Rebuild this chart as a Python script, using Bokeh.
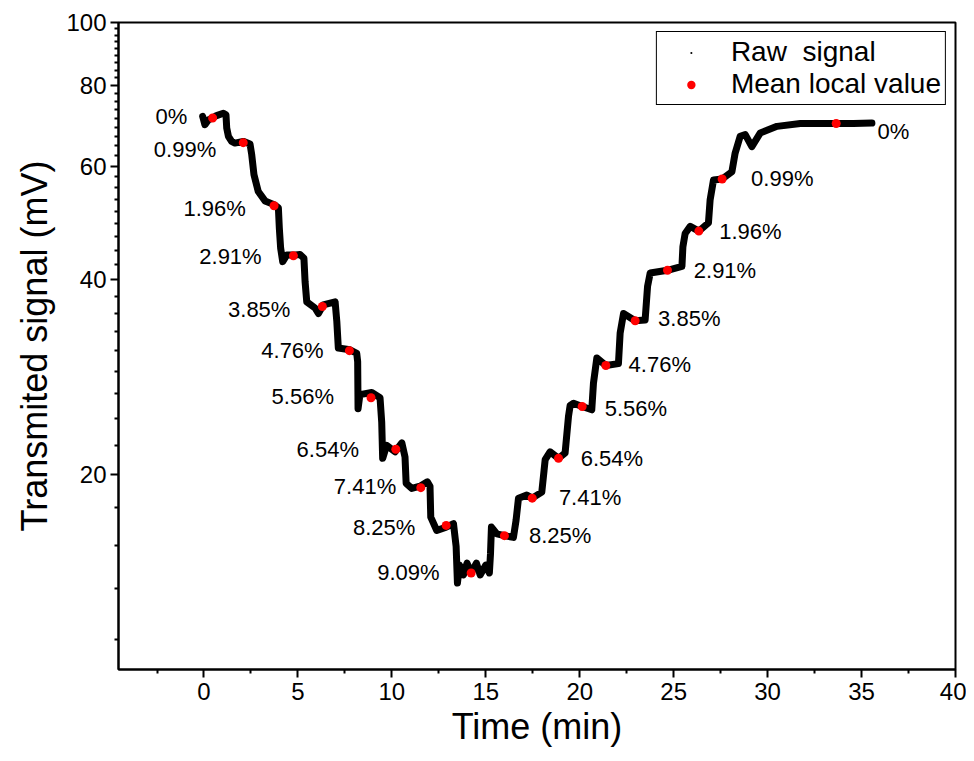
from bokeh.plotting import figure
from bokeh.models import Range1d, FixedTicker, PrintfTickFormatter, ColumnDataSource, Legend, LegendItem
from bokeh.core.properties import value
from bokeh.embed import file_html
from bokeh.resources import INLINE

FONT = "Liberation Sans"

# ---- data ----
raw_time = [-0.07, 0.05, 0.23, 0.46, 0.67, 1.03, 1.17, 1.21, 1.30, 1.47, 1.65, 2.09, 2.45, 2.54,
            2.66, 2.89, 3.25, 3.73, 3.96, 4.01, 4.08, 4.19, 4.40, 4.76, 5.11, 5.32, 5.38, 5.47,
            5.91, 6.09, 6.35, 6.98, 7.07, 7.15, 7.77, 8.13, 8.18, 8.20, 8.30, 8.93, 9.37, 9.46,
            9.51, 9.72, 10.17, 10.53, 10.70, 10.76, 11.06, 11.50, 11.89, 12.03, 12.07, 12.39,
            12.89, 13.28, 13.42, 13.49, 13.60, 13.81, 14.00, 14.22, 14.50, 14.70, 15.00, 15.19,
            15.25, 15.30, 15.59, 15.99, 16.47, 16.61, 16.74, 17.18, 17.47, 17.98, 18.10, 18.16,
            18.42, 18.87, 19.22, 19.40, 19.49, 19.67, 20.13, 20.64, 20.73, 20.91, 21.39, 22.06,
            22.15, 22.33, 22.95, 23.48, 23.61, 23.75, 24.67, 25.44, 25.49, 25.61, 25.88, 26.34,
            26.85, 26.94, 27.12, 27.58, 28.10, 28.27, 28.54, 28.81, 29.16, 29.61, 30.50, 31.74,
            33.65, 34.57, 35.55]
raw_signal = [71.6, 69.5, 70.7, 71.2, 71.8, 72.4, 72.0, 68.7, 66.7, 65.5, 65.1, 65.5, 64.9, 62.5,
              58.2, 54.8, 53.0, 52.3, 51.7, 48.1, 44.8, 42.7, 43.7, 43.7, 43.8, 43.2, 39.8, 37.0,
              36.2, 35.5, 36.6, 37.0, 34.5, 31.4, 31.2, 30.8, 29.9, 25.3, 26.6, 26.8, 26.3, 24.1,
              21.2, 22.2, 21.7, 22.4, 21.3, 19.4, 19.05, 19.2, 19.5, 19.2, 17.2, 16.4,
              16.6, 16.8, 15.5, 13.6, 14.5, 14.0, 14.6, 14.1, 14.6, 14.0, 14.5, 14.1,
              15.1, 16.6, 16.2, 16.1, 16.0, 17.0, 18.4, 18.6, 18.4, 18.8, 20.3, 21.1,
              21.7, 21.2, 21.6, 24.6, 25.6, 25.8, 25.5, 25.2, 27.7, 30.3, 29.5, 29.7,
              33.1, 35.5, 34.6, 34.7, 39.1, 41.0, 41.4, 42.0, 45.0, 47.2, 48.4, 47.6,
              49.0, 53.2, 57.1, 57.3, 58.8, 62.8, 66.7, 67.1, 64.3, 67.5, 69.1, 69.8,
              69.8, 69.8, 69.9]

mean_time = [0.46, 2.09, 3.73, 4.76, 6.30, 7.74, 8.89, 10.21, 11.54, 12.89, 14.22,
             15.99, 17.47, 18.87, 20.13, 21.39, 22.95, 24.67, 26.34, 27.58, 33.65]
mean_signal = [71.2, 65.2, 52.1, 43.6, 36.4, 31.1, 26.3, 21.9, 19.1, 16.7, 14.1,
               16.1, 18.4, 21.2, 25.5, 29.5, 34.6, 41.4, 47.6, 57.3, 69.8]

conc_labels = ["0%", "0.99%", "1.96%", "2.91%", "3.85%", "4.76%", "5.56%", "6.54%", "7.41%",
               "8.25%", "9.09%", "8.25%", "7.41%", "6.54%", "5.56%", "4.76%", "3.85%",
               "2.91%", "1.96%", "0.99%", "0%"]
label_time = [-1.73, -1.01, 0.57, 1.41, 2.94, 4.71, 5.26, 6.59, 8.57, 9.59, 10.88,
              18.96, 20.55, 21.71, 22.99, 24.26, 25.83, 27.73, 29.08, 30.78, 36.70]
label_signal = [71.5, 63.6, 51.5, 43.5, 35.96, 31.07, 26.4, 21.9, 19.2, 16.6, 14.1,
                16.1, 18.45, 21.2, 25.3, 29.6, 34.9, 41.4, 47.6, 57.3, 67.9]

x_major = [0, 5, 10, 15, 20, 25, 30, 35, 40]
x_minor = [-2.5, 2.5, 7.5, 12.5, 17.5, 22.5, 27.5, 32.5, 37.5]
y_major = [20, 40, 60, 80, 100]
y_minor = [20.0 * k / 9.0 for k in range(5, 45) if k % 9 != 0]

p = figure(width=966, height=753, output_backend="svg", toolbar_location=None,
           x_range=Range1d(-4.55, 40), y_range=Range1d(10, 100), y_axis_type="log",
           min_border_left=118, min_border_right=11, min_border_top=22, min_border_bottom=84)

p.xgrid.grid_line_color = None
p.ygrid.grid_line_color = None
p.outline_line_color = "black"
p.outline_line_width = 2
p.outline_line_alpha = 1

p.xaxis.ticker = FixedTicker(ticks=x_major, minor_ticks=x_minor)
p.yaxis.ticker = FixedTicker(ticks=y_major, minor_ticks=y_minor)
p.yaxis.formatter = PrintfTickFormatter(format="%d")

for ax in (p.xaxis[0], p.yaxis[0]):
    ax.axis_line_width = 2
    ax.axis_line_color = "black"
    ax.major_tick_line_width = 2
    ax.minor_tick_line_width = 2
    ax.major_tick_line_color = "black"
    ax.minor_tick_line_color = "black"
    ax.major_tick_out = 8
    ax.major_tick_in = 0
    ax.minor_tick_out = 4
    ax.minor_tick_in = 0
    ax.major_label_text_font = FONT
    ax.major_label_text_font_size = "24px"
    ax.major_label_text_color = "black"
    ax.axis_label_text_font = FONT
    ax.axis_label_text_font_size = "36px"
    ax.axis_label_text_font_style = "normal"
    ax.axis_label_text_color = "black"

p.xaxis.axis_label = "Time (min)"
p.yaxis.axis_label = "Transmited signal (mV)"
p.xaxis.major_label_standoff = 5
p.xaxis.axis_label_standoff = 3
p.yaxis.major_label_standoff = 4
p.yaxis.axis_label_standoff = 8

raw_src = ColumnDataSource(dict(t=raw_time, v=raw_signal))
mean_src = ColumnDataSource(dict(t=mean_time, v=mean_signal))
lab_src = ColumnDataSource(dict(t=label_time, v=label_signal, s=conc_labels))

p.line("t", "v", source=raw_src, line_color="black", line_width=7, line_join="round", line_cap="round")
r_raw = p.scatter("t", "v", source=raw_src, size=6, marker="dot", fill_color="black",
                  line_color="black", line_width=3.5)
r_mean = p.scatter("t", "v", source=mean_src, size=9, marker="circle", fill_color="#ff0000", line_color=None)

p.text("t", "v", text="s", source=lab_src, text_font=value(FONT), text_font_size="22px",
       text_color="black", text_align="center", text_baseline="middle")

legend = Legend(items=[LegendItem(label="Raw  signal", renderers=[r_raw]),
                       LegendItem(label="Mean local value", renderers=[r_mean])],
                location="top_right", margin=9, padding=4, spacing=0,
                glyph_width=60, glyph_height=21, label_standoff=10,
                label_text_font=FONT, label_text_font_size="28px", label_text_color="black",
                border_line_color="black", border_line_width=1, border_line_alpha=1,
                background_fill_color="white", background_fill_alpha=1)
p.add_layout(legend)

open("out.html", "w").write(file_html(p, INLINE))
